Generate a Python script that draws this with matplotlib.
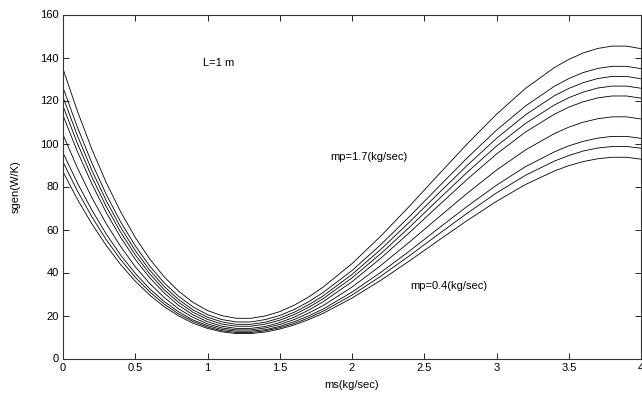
import matplotlib
matplotlib.use("Agg")
import matplotlib.pyplot as plt

plt.rcParams['font.family'] = ['Liberation Sans', 'DejaVu Sans']

# x positions (ms, kg/sec) at which values were read
ms = [0, 0.1, 0.2, 0.3, 0.4, 0.5, 0.6, 0.7, 0.8, 0.9, 1.0, 1.1, 1.2, 1.3, 1.4, 1.5,
      1.6, 1.7, 1.8, 2.0, 2.2, 2.4, 2.6, 2.8, 3.0, 3.2, 3.4, 3.5, 3.6, 3.7, 3.8, 3.9, 4.0]

# sgen (W/K) curves, top (mp=1.7) to bottom (mp=0.4)
sgen_1 = [134.7, 115.0, 97.3, 81.7, 68.1, 56.3, 46.3, 38.0, 31.3, 26.1, 22.3, 19.9, 18.7,
          18.7, 19.8, 21.8, 24.8, 28.6, 33.2, 44.1, 57.0, 71.0, 85.6, 100.0, 113.6, 125.6,
          135.3, 139.1, 142.1, 144.2, 145.3, 145.3, 144.1]
sgen_2 = [126.0, 107.5, 90.9, 76.2, 63.4, 52.4, 43.0, 35.2, 28.9, 24.0, 20.4, 18.1, 17.0,
          17.0, 18.1, 20.0, 22.8, 26.4, 30.7, 40.9, 53.0, 66.2, 79.9, 93.5, 106.2, 117.4,
          126.6, 130.2, 133.0, 134.9, 135.9, 135.9, 134.8]
sgen_3 = [121.6, 103.6, 87.5, 73.3, 60.9, 50.2, 41.1, 33.5, 27.4, 22.6, 19.2, 17.0, 15.9,
          15.9, 16.9, 18.8, 21.5, 25.0, 29.1, 39.1, 50.8, 63.6, 76.9, 90.0, 102.4, 113.3,
          122.2, 125.6, 128.3, 130.2, 131.2, 131.2, 130.1]
sgen_4 = [117.4, 100.0, 84.4, 70.6, 58.6, 48.2, 39.4, 32.0, 26.1, 21.5, 18.2, 16.0, 15.0,
          15.0, 16.0, 17.8, 20.4, 23.8, 27.8, 37.5, 48.8, 61.2, 74.1, 86.8, 98.8, 109.3,
          117.9, 121.3, 123.9, 125.8, 126.7, 126.7, 125.7]
sgen_5 = [113.1, 96.2, 81.2, 67.8, 56.2, 46.1, 37.6, 30.5, 24.7, 20.3, 17.1, 15.0, 14.0,
          14.0, 14.9, 16.7, 19.2, 22.5, 26.4, 35.7, 46.7, 58.7, 71.2, 83.5, 95.1, 105.3,
          113.6, 116.9, 119.4, 121.2, 122.1, 122.1, 121.1]
sgen_6 = [104.1, 88.6, 74.8, 62.6, 52.0, 42.7, 34.9, 28.4, 23.1, 19.1, 16.1, 14.2, 13.3,
          13.3, 14.2, 15.8, 18.1, 21.1, 24.6, 33.2, 43.3, 54.3, 65.7, 77.0, 87.6, 97.0,
          104.6, 107.6, 109.9, 111.5, 112.4, 112.4, 111.4]
sgen_7 = [95.7, 81.6, 69.0, 57.8, 48.0, 39.6, 32.4, 26.5, 21.7, 17.9, 15.3, 13.5, 12.7,
          12.7, 13.4, 14.9, 17.1, 19.8, 23.0, 30.9, 40.1, 50.1, 60.6, 70.9, 80.6, 89.2,
          96.1, 98.9, 101.0, 102.5, 103.3, 103.3, 102.4]
sgen_8 = [91.4, 77.9, 65.9, 55.2, 45.9, 37.8, 31.0, 25.3, 20.7, 17.2, 14.6, 12.9, 12.1,
          12.1, 12.9, 14.3, 16.3, 18.9, 22.0, 29.5, 38.3, 47.9, 57.9, 67.7, 77.0, 85.2,
          91.8, 94.4, 96.5, 97.9, 98.6, 98.6, 97.8]
sgen_9 = [86.8, 74.0, 62.6, 52.5, 43.6, 36.0, 29.5, 24.1, 19.8, 16.4, 14.0, 12.4, 11.6,
          11.6, 12.3, 13.7, 15.6, 18.1, 21.0, 28.1, 36.4, 45.5, 55.0, 64.3, 73.1, 80.9,
          87.2, 89.7, 91.6, 92.9, 93.6, 93.6, 92.7]

curves = [sgen_1, sgen_2, sgen_3, sgen_4, sgen_5, sgen_6, sgen_7, sgen_8, sgen_9]

xticks = [0, 0.5, 1, 1.5, 2, 2.5, 3, 3.5, 4]
xticklabels = ['0', '0.5', '1', '1.5', '2', '2.5', '3', '3.5', '4']
yticks = [0, 20, 40, 60, 80, 100, 120, 140, 160]

fig = plt.figure(figsize=(6.42, 4.01), dpi=100)
ax = fig.add_axes([63 / 642, 1 - 358.5 / 401, 578 / 642, 344 / 401])

for c in curves:
    ax.plot(ms, c, color='black', linewidth=0.6, solid_joinstyle='round')

ax.set_xlim(0, 4)
ax.set_ylim(0, 160)
ax.set_xticks(xticks)
ax.set_xticklabels(xticklabels)
ax.set_yticks(yticks)
ax.tick_params(direction='in', length=4, width=0.6, labelsize=8,
               top=True, right=True, colors='black', pad=3)
for s in ax.spines.values():
    s.set_linewidth(0.8)
    s.set_color('#333333')

ax.set_xlabel('ms(kg/sec)', fontsize=8, labelpad=5)
ax.set_ylabel('sgen(W/K)', fontsize=8, labelpad=14)

ax.text(0.97, 137.5, 'L=1 m', fontsize=8, va='center', ha='left')
ax.text(1.85, 93.7, 'mp=1.7(kg/sec)', fontsize=8, va='center', ha='left')
ax.text(2.40, 33.7, 'mp=0.4(kg/sec)', fontsize=8, va='center', ha='left')

fig.savefig('out.png', dpi=100)
